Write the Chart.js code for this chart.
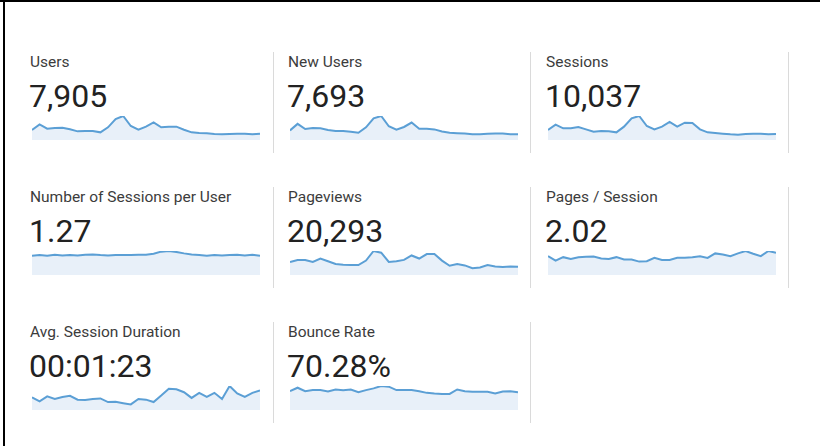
<!DOCTYPE html>
<html>
<head>
<meta charset="utf-8">
<script src="https://cdn.jsdelivr.net/npm/chart.js@4.4.1/dist/chart.umd.min.js"></script>
<style>
  html, body { margin: 0; padding: 0; background: #fff; }
  #frame {
    position: relative; width: 820px; height: 446px; overflow: hidden;
    font-family: Roboto, "Noto Sans", sans-serif;
  }
  #frame .top { position: absolute; left: 0; top: 0; width: 820px; height: 2px; background: #000; }
  #frame .left { position: absolute; left: 3px; top: 0; width: 2px; height: 446px; background: #000; }
  .card { position: absolute; width: 241px; height: 101px; }
  .card .title { position: absolute; left: 0; top: 1px; font-size: 15.5px; line-height: 18px; color: #3c3c3c; white-space: nowrap; }
  .card .value { position: absolute; left: -1px; top: 25px; font-size: 32px; line-height: 38px; color: #222; white-space: nowrap; }
  .card canvas { position: absolute; left: 2px; top: 62px; }
  .divider { position: absolute; width: 1px; height: 101px; background: #dadada; }
</style>
</head>
<body>
<div id="frame">
  <div class="top"></div>
  <div class="left"></div>
</div>
<script>
// Дни периода
const days = ["1", "2", "3", "4", "5", "6", "7", "8", "9", "10", "11", "12", "13", "14", "15", "16",
  "17", "18", "19", "20", "21", "22", "23", "24", "25", "26", "27", "28", "29", "30", "31"];
// Метрики
const titles = ["Users", "New Users", "Sessions", "Number of Sessions per User", "Pageviews",
  "Pages / Session", "Avg. Session Duration", "Bounce Rate"];
const totals = ["7,905", "7,693", "10,037", "1.27", "20,293", "2.02", "00:01:23", "70.28%"];
// Значения по дням
const users = [222, 348, 252, 266, 274, 237, 192, 200, 200, 170, 281, 466, 533, 311, 229, 296,
  392, 281, 296, 296, 229, 170, 155, 148, 133, 126, 133, 141, 141, 126, 141];
const newUsers = [207, 348, 237, 259, 252, 215, 192, 192, 178, 155, 274, 466, 518, 296, 222, 281,
  377, 244, 244, 229, 185, 155, 148, 141, 126, 126, 133, 141, 141, 126, 126];
const sessions = [294, 450, 343, 343, 382, 313, 245, 264, 255, 225, 392, 637, 705, 411, 313, 392,
  529, 392, 509, 499, 313, 225, 206, 186, 166, 157, 176, 186, 186, 166, 176];
const sessionsPerUser = [1.22, 1.26, 1.22, 1.28, 1.24, 1.26, 1.24, 1.28, 1.30, 1.26, 1.24, 1.26, 1.26, 1.26, 1.28, 1.28,
  1.35, 1.48, 1.52, 1.46, 1.37, 1.30, 1.26, 1.22, 1.26, 1.24, 1.26, 1.28, 1.24, 1.28, 1.22];
const pageviews = [646, 748, 748, 646, 816, 680, 544, 510, 493, 493, 714, 1190, 1105, 646, 680, 748,
  969, 816, 1037, 1037, 714, 459, 544, 476, 340, 374, 493, 425, 391, 425, 408];
const pagesPerSession = [2.11, 1.61, 2.00, 1.80, 2.00, 2.04, 2.07, 1.84, 1.80, 2.00, 1.73, 1.73, 1.50, 1.54, 1.92, 1.69,
  1.69, 1.92, 1.92, 2.00, 2.11, 1.92, 2.42, 2.30, 2.11, 2.42, 2.69, 2.38, 2.11, 2.69, 2.50];
const avgDuration = [80, 54, 86, 69, 82, 89, 65, 63, 69, 73, 50, 52, 43, 35, 69, 65,
  50, 91, 134, 130, 112, 76, 108, 82, 108, 69, 151, 104, 82, 108, 123];
const bounceRate = [69.0, 81.6, 69.0, 72.8, 72.8, 67.8, 75.3, 72.8, 75.3, 65.3, 72.8, 79.1, 87.9, 85.3, 72.8, 72.8,
  72.8, 69.0, 62.8, 60.2, 59.0, 59.0, 75.3, 69.0, 66.5, 66.5, 66.5, 60.2, 67.8, 69.0, 65.3];
const series = [users, newUsers, sessions, sessionsPerUser, pageviews, pagesPerSession, avgDuration, bounceRate];

const frame = document.getElementById("frame");
const colX = [30, 288, 546];
const rowY = [52, 187, 322];

const createSparkline = (canvas, values) => {
  new Chart(canvas.getContext("2d"), {
    type: "line",
    data: {
      labels: days,
      datasets: [{
        data: values,
        borderColor: "#5b9fd5",
        borderWidth: 2,
        backgroundColor: "#e8f0f9",
        fill: "origin",
        pointRadius: 0,
        tension: 0,
      }],
    },
    options: {
      responsive: false,
      animation: false,
      layout: { padding: { top: 2, bottom: 0, left: 0, right: 0 } },
      plugins: { legend: { display: false }, tooltip: { enabled: false } },
      scales: {
        x: { display: false },
        y: { display: false, min: 0, max: Math.max(...values) },
      },
    },
  });
};

titles.forEach((title, i) => {
  const card = document.createElement("div");
  card.className = "card";
  card.style.left = colX[i % 3] + "px";
  card.style.top = rowY[Math.floor(i / 3)] + "px";
  card.innerHTML = `<div class="title">${title}</div><div class="value">${totals[i]}</div>`;
  const canvas = document.createElement("canvas");
  canvas.width = 228;
  canvas.height = 26;
  card.appendChild(canvas);
  frame.appendChild(card);
  createSparkline(canvas, series[i]);
});

// Разделители
[[273, 0], [530, 0], [788, 0], [273, 1], [530, 1], [788, 1], [273, 2], [530, 2]].forEach(([x, r]) => {
  const d = document.createElement("div");
  d.className = "divider";
  d.style.left = x + "px";
  d.style.top = rowY[r] + "px";
  frame.appendChild(d);
});
</script>
</body>
</html>
